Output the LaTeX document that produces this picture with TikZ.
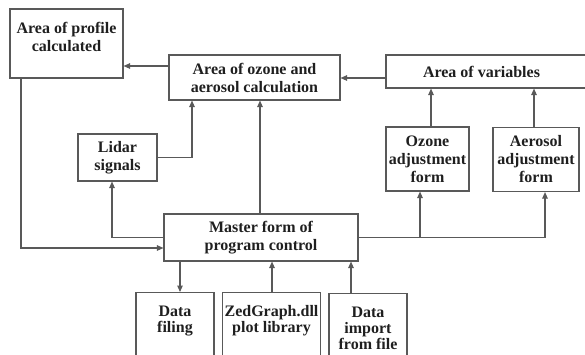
\documentclass[tikz,border=0pt]{standalone}
\usepackage{fontspec}
\setmainfont{Liberation Serif}
\usetikzlibrary{arrows.meta}

\tikzset{
  box/.style={draw=black!65, line width=1.1pt, align=center, inner sep=2pt,
    text=black!88, font=\fontsize{16}{18}\selectfont\bfseries},
  lowbox/.style={box, anchor=north, inner xsep=2pt, inner ysep=13pt, text depth=60pt,
    font=\fontsize{16}{16}\selectfont\bfseries},
  link/.style={draw=black!65, line width=1.1pt},
}

\begin{document}
\begin{tikzpicture}[x=1pt,y=-1pt,>={Triangle[length=6.5pt,width=5.5pt]}]
            \useasboundingbox (0,0) rectangle (585,354);
            \clip (0,0) rectangle (585,354);
            % upper row
            \node[box,minimum width=113,minimum height=69,text depth=13pt] (profile) at (66.5,43.5) {Area of profile\\calculated};
            \node[box,minimum width=171,minimum height=45] (ozone) at (254.5,77.5) {Area of ozone and\\aerosol calculation};
            % right side runs past the page edge, so pull the text back to the middle
            \node[box,minimum width=230,minimum height=33] (vars) at (501,71.5) {\hspace*{-39pt}Area of variables};
            % middle row
            \node[box,minimum width=79,minimum height=47] (lidar) at (117.5,157.5) {Lidar\\signals};
            \node[box,minimum width=83,minimum height=64] (ozoneadj) at (427.5,159) {Ozone\\adjustment\\form};
            \node[box,minimum width=86,minimum height=64] (aeroadj) at (536,159.5) {Aerosol\\adjustment\\form};
            \node[box,minimum width=194,minimum height=47] (master) at (261,237.5) {Master form of\\program control};
            % bottom row, cut by the page edge
            \node[lowbox,minimum width=78] (filing) at (175,292) {Data\\filing};
            \node[lowbox,minimum width=91] (zed) at (271.5,292) {ZedGraph.dll\\plot library};
            \node[lowbox,minimum width=78] (import) at (368,293) {Data\\import\\from file};
            % connectors
            \draw[link,->] (ozone.west |- 0,66) -- (profile.east |- 0,66);
            \draw[link,->] (vars.west |- 0,78) -- (ozone.east |- 0,78);
            \draw[link,->] (lidar.east) -| (ozone.south -| 192,0);
            \draw[link,->] (master.north -| 260,0) -- (ozone.south -| 260,0);
            \draw[link,->] (ozoneadj.north -| 431,0) -- (vars.south -| 431,0);
            \draw[link,->] (aeroadj.north -| 534,0) -- (vars.south -| 534,0);
            \draw[link,->] (master.east) -| (aeroadj.south -| 545,0);
            \draw[link,->] (master.east -| 420,0) -- (ozoneadj.south -| 420,0);
            \draw[link,->] (master.west) -| (lidar.south -| 112,0);
            \draw[link,->] (profile.south -| 21,0) |- (master.west |- 0,248);
            \draw[link,->] (master.south -| 180,0) -- (filing.north -| 180,0);
            \draw[link,->] (zed.north -| 272,0) -- (master.south -| 272,0);
            \draw[link,->] (import.north -| 351,0) -- (master.south -| 351,0);
        \end{tikzpicture}
\end{document}
